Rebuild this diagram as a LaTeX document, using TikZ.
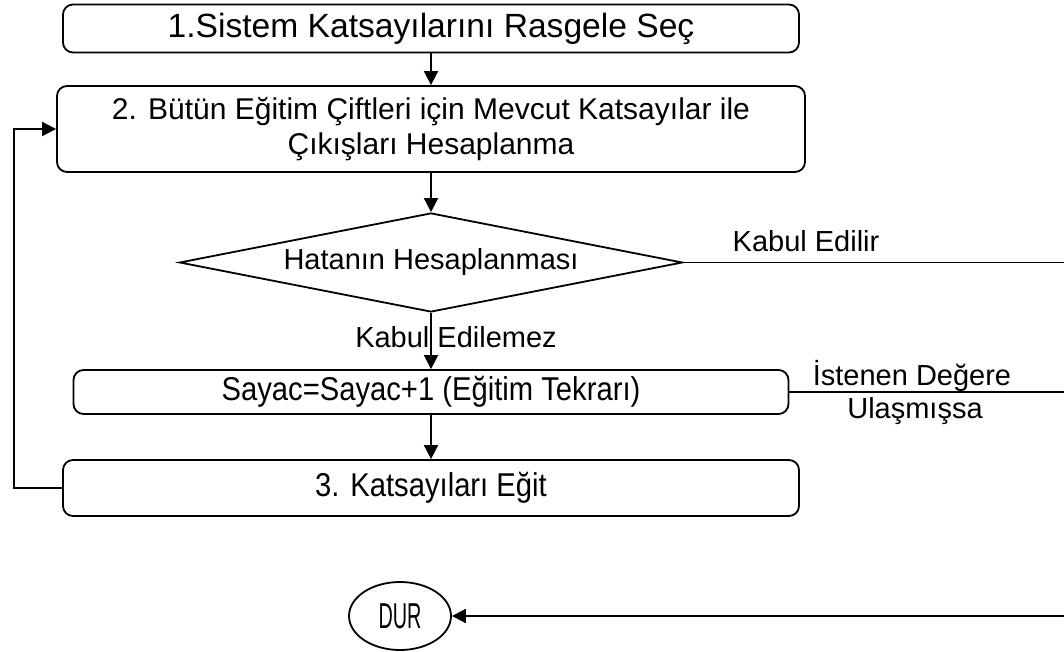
\documentclass[tikz,border=0pt]{standalone}
\usepackage{fontspec}
\setmainfont{Liberation Sans}
\usetikzlibrary{shapes.geometric,arrows.meta}
\newcommand{\dar}[2][0.8]{\scalebox{#1}[1]{#2}}
\begin{document}
\begin{tikzpicture}[x=0.5pt, y=-0.5pt, line width=0.9pt,
    every node/.style={font=\fontsize{14.5pt}{17.5pt}\selectfont},
    kutu/.style={draw, rounded corners=5pt, inner sep=0pt},
    ok/.style={-{Triangle[length=7pt,width=7pt]}}]
  \useasboundingbox (0,0) rectangle (1064,652);
  \node[kutu, minimum width=368pt, minimum height=24pt, font=\fontsize{16.8pt}{20pt}\selectfont] (sec) at (431,28.5) {1.Sistem Katsayılarını Rasgele Seç};
  \node[kutu, minimum width=374pt, minimum height=43pt, align=center, font=\fontsize{15pt}{17.5pt}\selectfont] (hesap) at (431,129) {2. Bütün Eğitim Çiftleri için Mevcut Katsayılar ile\\Çıkışları Hesaplanma};
  \node[draw, shape=diamond, aspect=5.08, inner sep=0pt, minimum width=251.5pt, minimum height=49.5pt] (hata) at (431,262.5) {Hatanın Hesaplanması};
  \node[kutu, minimum width=357.5pt, minimum height=22pt, font=\fontsize{16.5pt}{19pt}\selectfont] (sayac) at (431,392) {\dar[0.885]{Sayac=Sayac+1 (Eğitim Tekrarı)}};
  \node[kutu, minimum width=368pt, minimum height=28pt, font=\fontsize{16.5pt}{19pt}\selectfont] (egit) at (431,488) {\dar[0.885]{3. Katsayıları Eğit}};
  \node[draw, shape=ellipse, inner sep=0pt, minimum width=51pt, minimum height=34pt, font=\fontsize{18pt}{20pt}\selectfont] (dur) at (400,616) {\dar[0.55]{DUR}};
  \coordinate (sag1) at (1064,262.5);
  \coordinate (sag2) at (1064,392);
  \coordinate (sag3) at (1064,616);
  \coordinate (sol1) at (14,488);
  \coordinate (sol2) at (14,129);
  \node (kabul) at (806,241) {Kabul Edilir};
  \node (red) at (456,337) {Kabul Edilemez};
  \node (ist1) at (912,376) {İstenen Değere};
  \node (ist2) at (915,411) {Ulaşmışsa};
  \draw[ok] (sec) -- (hesap);
  \draw[ok] (hesap) -- (hata);
  \draw[ok] (hata) -- (sayac);
  \draw[ok] (sayac) -- (egit);
  \draw[ok] (egit.west) -- (sol1) -- (sol2) -- (hesap.west);
  \draw (hata.east) -- (sag1);
  \draw (sayac.east) -- (sag2);
  \draw[ok] (sag3) -- (dur);
\end{tikzpicture}
\end{document}
